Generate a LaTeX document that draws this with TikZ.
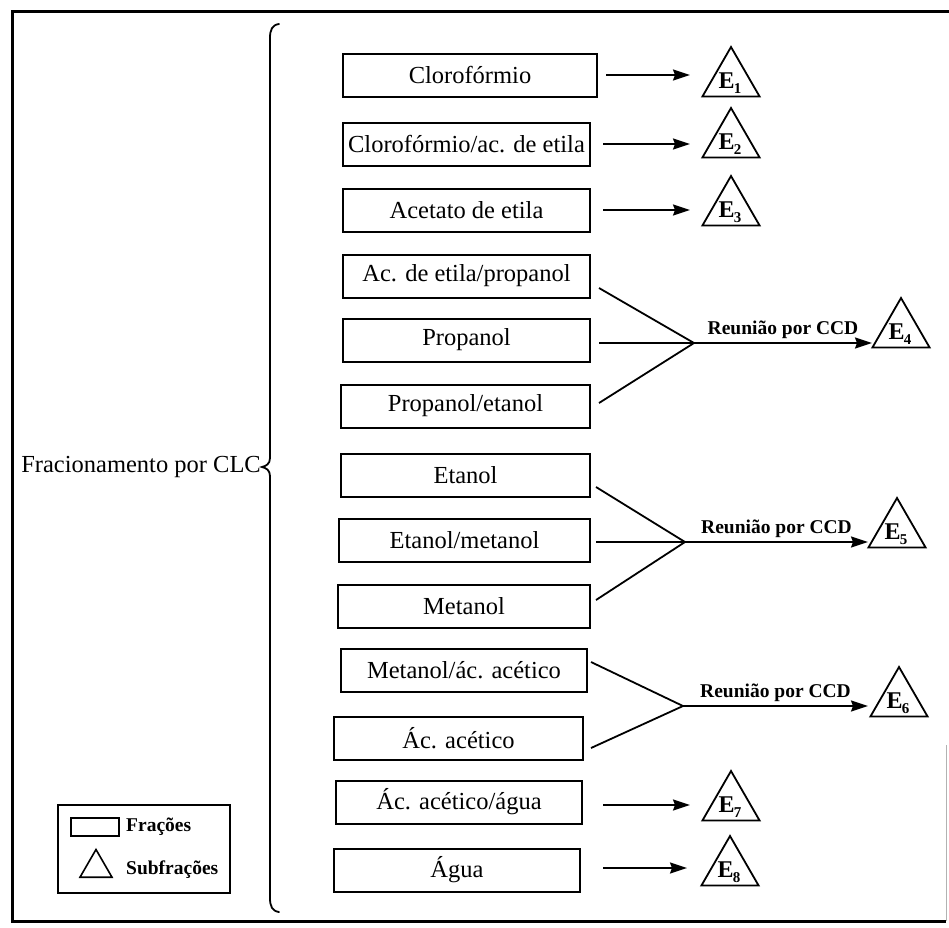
\documentclass[tikz,border=0pt]{standalone}
\usepackage{fontspec}
\setmainfont{Liberation Serif}
\usetikzlibrary{arrows.meta,shapes.geometric}
\newcommand{\esub}[1]{\kern-0.04em\raisebox{-0.2em}{\fontsize{15}{15}\selectfont #1}}
\begin{document}
\begin{tikzpicture}[x=1pt,y=-1pt,
  frac/.style={draw, line width=2pt, minimum height=43, inner sep=0pt, font=\fontsize{24.5}{28}\selectfont},
  sub/.style={draw, regular polygon, regular polygon sides=3, minimum size=66, inner sep=0pt, line width=1.8pt},
  elab/.style={font=\bfseries\fontsize{24}{26}\selectfont, inner sep=0pt},
  arr/.style={line width=1.8pt, -{Stealth[length=17pt,width=11pt,inset=2pt]}},
  ln/.style={line width=1.8pt},
  reun/.style={font=\bfseries\fontsize{19.5}{21}\selectfont, inner sep=3pt, above},
  leg/.style={font=\bfseries\fontsize{19.5}{21}\selectfont, inner sep=0pt, anchor=west},
  brc/.style={line width=1.8pt, line cap=round}
]
\useasboundingbox (0,0) rectangle (949,927);
% frame
\draw[line width=3pt] (949,11) -- (12,11) -- (12,921) -- (946,921);
\draw[line width=0.6pt, gray!60] (946,745) -- (946,921);

% brace and main label
\draw[brc] (279,24) .. controls (272,25) and (270,30) .. (270,38) -- (270,458)
  .. controls (270,464) and (266,466) .. (262,467)
  .. controls (266,468) and (270,470) .. (270,476) -- (270,898)
  .. controls (270,906) and (272,911) .. (279,912);
\node[anchor=east, inner sep=0pt, font=\fontsize{24.5}{28}\selectfont] (clc) at (261,467) {Fracionamento por CLC};

% fractions
\node[frac, minimum width=254] (b1) at (470,75) {Clorofórmio};
\node[frac, minimum width=247] (b2) at (466.5,144) {Clorofórmio/ac. de etila};
\node[frac, minimum width=247] (b3) at (466.5,210) {Acetato de etila};
\node[frac, minimum width=247] (b4) at (466.5,276) {Ac. de etila/propanol};
\node[frac, minimum width=247] (b5) at (466.5,340) {Propanol};
\node[frac, minimum width=249] (b6) at (465.5,406) {Propanol/etanol};
\node[frac, minimum width=249] (b7) at (465.5,475) {Etanol};
\node[frac, minimum width=251] (b8) at (464.5,540) {Etanol/metanol};
\node[frac, minimum width=252] (b9) at (464,606) {Metanol};
\node[frac, minimum width=246] (b10) at (464,670) {Metanol/ác. acético};
\node[frac, minimum width=249] (b11) at (458.5,738) {Ác. acético};
\node[frac, minimum width=246] (b12) at (459,802) {Ác. acético/água};
\node[frac, minimum width=246] (b13) at (457,870) {Água};

% subfractions
\node[sub] (t1) at (731,80) {};
\node[sub] (t2) at (731,141) {};
\node[sub] (t3) at (731,209) {};
\node[sub] (t4) at (901,331) {};
\node[sub] (t5) at (897,531) {};
\node[sub] (t6) at (899,700) {};
\node[sub] (t7) at (731,804) {};
\node[sub] (t8) at (730,869) {};
\node[elab] (e1) at ([xshift=-1,yshift=-3]t1.center) {E\esub{1}};
\node[elab] (e2) at ([xshift=-1,yshift=-3]t2.center) {E\esub{2}};
\node[elab] (e3) at ([xshift=-1,yshift=-3]t3.center) {E\esub{3}};
\node[elab] (e4) at ([xshift=-1,yshift=-3]t4.center) {E\esub{4}};
\node[elab] (e5) at ([xshift=-1,yshift=-3]t5.center) {E\esub{5}};
\node[elab] (e6) at ([xshift=-1,yshift=-3]t6.center) {E\esub{6}};
\node[elab] (e7) at ([xshift=-1,yshift=-3]t7.center) {E\esub{7}};
\node[elab] (e8) at ([xshift=-1,yshift=-3]t8.center) {E\esub{8}};

% single arrows
\coordinate (a1) at (690,75);
\coordinate (a2) at (690,144);
\coordinate (a3) at (690,210);
\coordinate (a7) at (690,805);
\coordinate (a8) at (687,868);
\draw[arr] ([xshift=8]b1.east) -- (a1);
\draw[arr] ([xshift=12]b2.east) -- (a2);
\draw[arr] ([xshift=12]b3.east) -- (a3);
\draw[arr] ([xshift=20]b12.east |- a7) -- (a7);
\draw[arr] ([xshift=22]b13.east |- a8) -- (a8);

% group 1
\coordinate (j1) at (694,343);
\coordinate (g1) at (872,343);
\draw[ln] ([xshift=8,yshift=-12]b4.east) -- (j1);
\draw[ln] ([xshift=8,yshift=-3]b5.east) -- (j1);
\draw[ln] ([xshift=8,yshift=3]b6.east) -- (j1);
\draw[arr] (j1) -- (g1) node[reun, midway] (r1) {Reunião por CCD};

% group 2
\coordinate (j2) at (685,542);
\coordinate (g2) at (868,542);
\draw[ln] ([xshift=5,yshift=-12]b7.east) -- (j2);
\draw[ln] ([xshift=5,yshift=-2]b8.east) -- (j2);
\draw[ln] ([xshift=5,yshift=6]b9.east) -- (j2);
\draw[arr] (j2) -- (g2) node[reun, midway] (r2) {Reunião por CCD};

% group 3
\coordinate (j3) at (683,706);
\coordinate (g3) at (868,706);
\draw[ln] ([xshift=3,yshift=8]b10.east) -- (j3);
\draw[ln] ([xshift=7,yshift=-10]b11.east) -- (j3);
\draw[arr] (j3) -- (g3) node[reun, midway] (r3) {Reunião por CCD};

% legend
\node[draw, line width=2.2pt, minimum width=172, minimum height=88, inner sep=0pt] (legbox) at (144,849) {};
\node[draw, line width=1.6pt, minimum width=48, minimum height=18, inner sep=0pt] (legr) at (95,827) {};
\node[draw, regular polygon, regular polygon sides=3, minimum size=37, inner sep=0pt, line width=1.6pt] (legt) at (96,868) {};
\node[leg] (legrt) at (126,827) {Frações};
\node[leg] (legtt) at (126,870) {Subfrações};
\end{tikzpicture}
\end{document}
